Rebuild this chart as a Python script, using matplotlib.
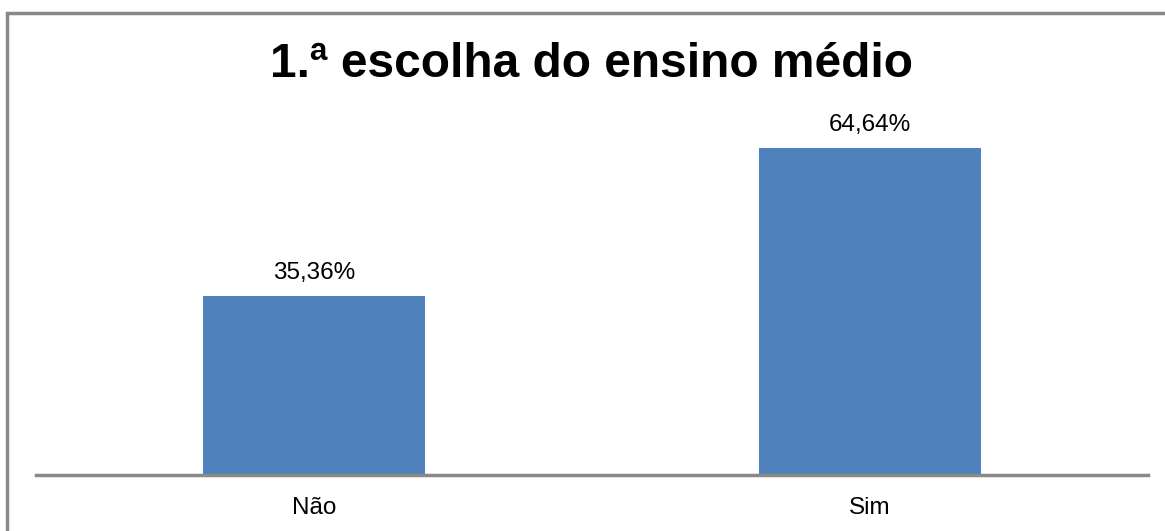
import matplotlib.pyplot as plt
from matplotlib.patches import Rectangle

categories = ['Não', 'Sim']
values = [35.36, 64.64]
labels = ['35,36%', '64,64%']

W, H = 1165, 531
plt.rcParams['font.family'] = ['Liberation Sans', 'DejaVu Sans']

fig = plt.figure(figsize=(W / 100, H / 100), dpi=100)
ax = fig.add_axes([36 / W, (H - 475) / H, (1148 - 36) / W, (475 - 121) / H])

x = range(len(categories))
bars = ax.bar(x, values, width=0.4, color='#4F81BD')
for b, lab in zip(bars, labels):
    ax.text(b.get_x() + b.get_width() / 2, b.get_height() + 2.4, lab,
            ha='center', va='bottom', fontsize=17.5)

ax.set_xlim(-0.5, 1.5)
ax.set_ylim(0, 70)
ax.set_yticks([])
ax.set_xticks(list(x))
ax.set_xticklabels(categories, fontsize=17.5)
ax.tick_params(axis='x', length=0, pad=16)
for s in ['top', 'right', 'left']:
    ax.spines[s].set_visible(False)
ax.spines['bottom'].set_color('#888888')
ax.spines['bottom'].set_linewidth(2.5)

fig.text(592 / W, 1 - 65 / H, '1.ª escolha do ensino médio', ha='center', va='center',
         fontsize=34.5, fontweight='bold')

# outer frame (extends beyond right and bottom edges)
fig.add_artist(Rectangle((7 / W, -0.1), 1.2, 1 - 13 / H + 0.1, transform=fig.transFigure,
                         fill=False, edgecolor='#888888', linewidth=2.5))

fig.savefig('out.png', dpi=100)
